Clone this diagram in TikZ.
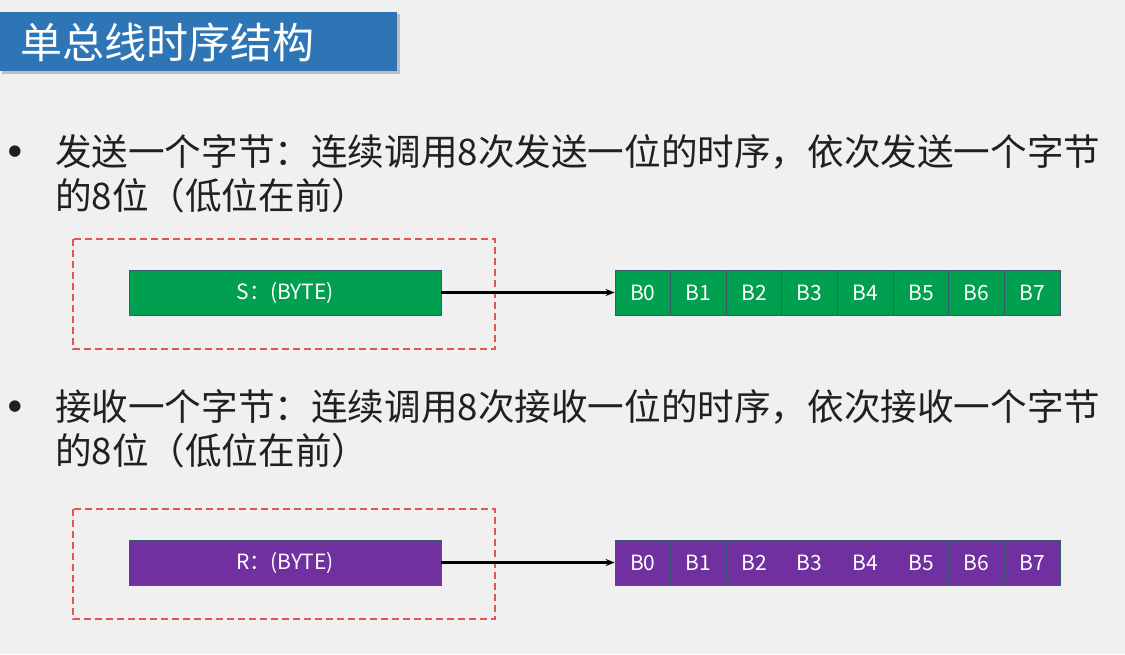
\documentclass[tikz,border=0pt]{standalone}
\usepackage{fontspec}
\setmainfont{Noto Sans CJK SC}
\newfontfamily\dejavu{DejaVu Sans}
\usetikzlibrary{arrows.meta}
\definecolor{bgc}{HTML}{F0F0F0}
\definecolor{titleblue}{HTML}{2E75B6}
\definecolor{sgreen}{HTML}{00A050}
\definecolor{rpurple}{HTML}{7030A0}
\definecolor{cellborder}{HTML}{3A5A70}
\definecolor{boxred}{RGB}{225,85,85}
\definecolor{textgray}{HTML}{202020}
\tikzset{
  body/.style={anchor=base west, inner sep=0pt, text=textgray, font=\fontsize{36.6}{44}\selectfont},
  bulletdot/.style={anchor=center, inner sep=0pt, text=textgray, font=\dejavu\fontsize{15}{18}\selectfont},
  bar/.style={draw=cellborder, line width=0.8pt, minimum width=312pt, minimum height=45pt, inner sep=0pt, text=white, font=\fontsize{21}{24}\selectfont},
  cell/.style={draw=cellborder, line width=0.8pt, minimum width=55.625pt, minimum height=45pt, inner sep=0pt, text=white, font=\fontsize{21}{24}\selectfont},
  dashbox/.style={color=boxred, line width=1.6pt, dash pattern=on 7pt off 4pt},
  arr/.style={-{Stealth[length=9pt,width=7pt]}, line width=2.4pt, black},
}
\begin{document}
\begin{tikzpicture}[x=1pt,y=-1pt]
\useasboundingbox (0,0) rectangle (1125,654);
\fill[bgc] (0,0) rectangle (1125,654);
% title bar
\fill[black!25] (2,14) rectangle (400,74);
\node[fill=titleblue, anchor=north west, minimum width=397pt, minimum height=59pt, inner sep=0pt] (titlebar) at (0,12) {};
\node[anchor=base west, inner sep=0pt, text=white, font=\fontsize{42}{48}\selectfont] (title) at (20,58) {单总线时序结构};
% bullet 1
\node[bulletdot] (d1) at (15,152) {●};
\node[body] (t1a) at (55,165) {发送一个字节：连续调用8次发送一位的时序，依次发送一个字节};
\node[body] (t1b) at (55,209) {的8位（低位在前）};
% bullet 2
\node[bulletdot] (d2) at (15,407) {●};
\node[body] (t2a) at (55,420) {接收一个字节：连续调用8次接收一位的时序，依次接收一个字节};
\node[body] (t2b) at (55,464) {的8位（低位在前）};
% send diagram
\draw[dashbox] (73,239) rectangle (495,349);
\node[bar, fill=sgreen] (S) at (285,292.5) {S：(BYTE)};
\foreach \i in {0,...,7}
  \node[cell, fill=sgreen] (s\i) at ({615+55.625*(\i+0.5)},292.5) {B\i};
\draw[arr] (S.east) -- (s0.west);
% receive diagram
\draw[dashbox] (73,509) rectangle (495,619);
\node[bar, fill=rpurple] (R) at (285,562.5) {R：(BYTE)};
\foreach \i in {0,...,7}
  \node[cell, fill=rpurple] (r\i) at ({615+55.625*(\i+0.5)},562.5) {B\i};
\draw[arr] (R.east) -- (r0.west);
\end{tikzpicture}
\end{document}
